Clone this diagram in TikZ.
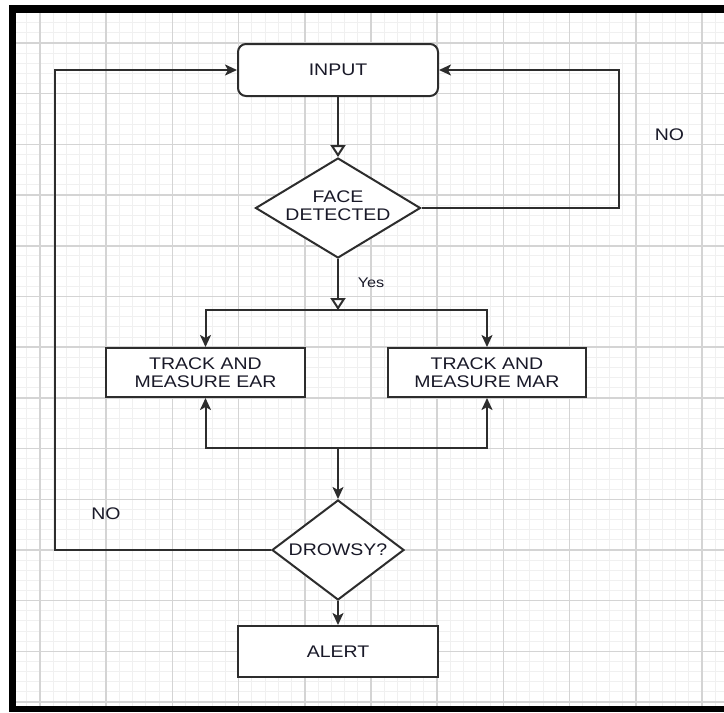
\documentclass[tikz,border=0pt]{standalone}
\usepackage{fontspec}
\setmainfont{Liberation Sans}[FakeStretch=1.16]
\usetikzlibrary{shapes.geometric,arrows.meta}
\definecolor{lnc}{RGB}{45,45,45}
\definecolor{txc}{RGB}{25,25,40}
\definecolor{gmin}{RGB}{240,240,240}
\definecolor{gmaj}{RGB}{212,212,212}
\tikzset{
  boxnode/.style={draw=lnc, line width=2pt, fill=white, minimum width=200pt, minimum height=50pt, inner sep=0pt, align=center, text=txc, font=\fontsize{16.8}{18}\selectfont},
  roundbox/.style={boxnode, rounded corners=8pt, minimum height=52pt},
  dia/.style={diamond, draw=lnc, line width=2pt, fill=white, inner sep=0pt},
  diatext/.style={align=center, text=txc, font=\fontsize{16.8}{18}\selectfont},
  lbl/.style={text=txc, font=\fontsize{16.8}{18}\selectfont, inner sep=0pt},
  conn/.style={draw=lnc, line width=2pt},
  arr/.style={conn, -{Stealth[length=12pt, width=11pt, inset=3pt]}},
  openarr/.style={conn, -{Triangle[open, length=12pt, width=15pt, fill=white]}},
}
\begin{document}
\begin{tikzpicture}[x=1pt, y=-1pt]
\useasboundingbox (0,0) rectangle (724,713);
\fill[white] (0,0) rectangle (724,713);
% grid
\foreach \j in {-1,...,51} {
  \pgfmathsetmacro{\gx}{40+13.24*\j}
  \draw[gmin, line width=1pt] (\gx,13) -- (\gx,706);
}
\foreach \j in {-2,...,65} {
  \pgfmathsetmacro{\gy}{43+10.14*\j}
  \draw[gmin, line width=1pt] (16,\gy) -- (724,\gy);
}
\foreach \j in {0,...,10} {
  \pgfmathsetmacro{\gx}{40+66.2*\j}
  \draw[gmaj, line width=1.5pt] (\gx,13) -- (\gx,706);
}
\foreach \j in {0,...,13} {
  \pgfmathsetmacro{\gy}{43+50.7*\j}
  \draw[gmaj, line width=1.5pt] (16,\gy) -- (724,\gy);
}
% frame
\fill[black] (9,5) rectangle (16,712);
\fill[black] (9,5) rectangle (724,13);
\fill[black] (9,706) rectangle (724,712);

% nodes
\node[roundbox] (input) at (338,70) {INPUT};
\node[dia, minimum width=165pt, minimum height=100pt] (face) at (338,208) {};
\node[diatext] (facet) at (338,206) {FACE\\DETECTED};
\node[boxnode, minimum width=199pt, minimum height=49pt] (ear) at (205.5,372.5) {TRACK AND\\MEASURE EAR};
\node[boxnode, minimum width=198pt, minimum height=49pt] (mar) at (487,372.5) {TRACK AND\\MEASURE MAR};
\node[dia, minimum width=132pt, minimum height=100pt] (drowsy) at (338,550) {};
\node[diatext] (drowsyt) at (338,550) {DROWSY?};
\node[boxnode, minimum height=51pt] (alert) at (338,651.5) {ALERT};

% labels
\node[lbl] (no1) at (669.5,135) {NO};
\node[lbl, font=\fontsize{14}{16}\selectfont] (yes) at (371,283) {Yes};
\node[lbl] (no2) at (106,514) {NO};

% helper coordinates
\coordinate (split) at (338,310);
\coordinate (join) at (338,448);
\coordinate (rloop) at (619,208);
\coordinate (lloop) at (55,550);

% connectors
\draw[openarr] (input.south) -- (face.north);
\draw[arr] (face.east) -- (rloop) |- (input.east);
\draw[openarr] (face.south) -- (split);
\draw[conn] (ear.north |- split) -- (mar.north |- split);
\draw[arr] (split) -| (ear.north);
\draw[arr] (split) -| (mar.north);
\draw[conn] (ear.south |- join) -- (mar.south |- join);
\draw[arr] (join) -| (ear.south);
\draw[arr] (join) -| (mar.south);
\draw[arr] (join) -- (drowsy.north);
\draw[arr] (drowsy.west) -- (lloop) |- (input.west);
\draw[arr] (drowsy.south) -- (alert.north);
\end{tikzpicture}
\end{document}
